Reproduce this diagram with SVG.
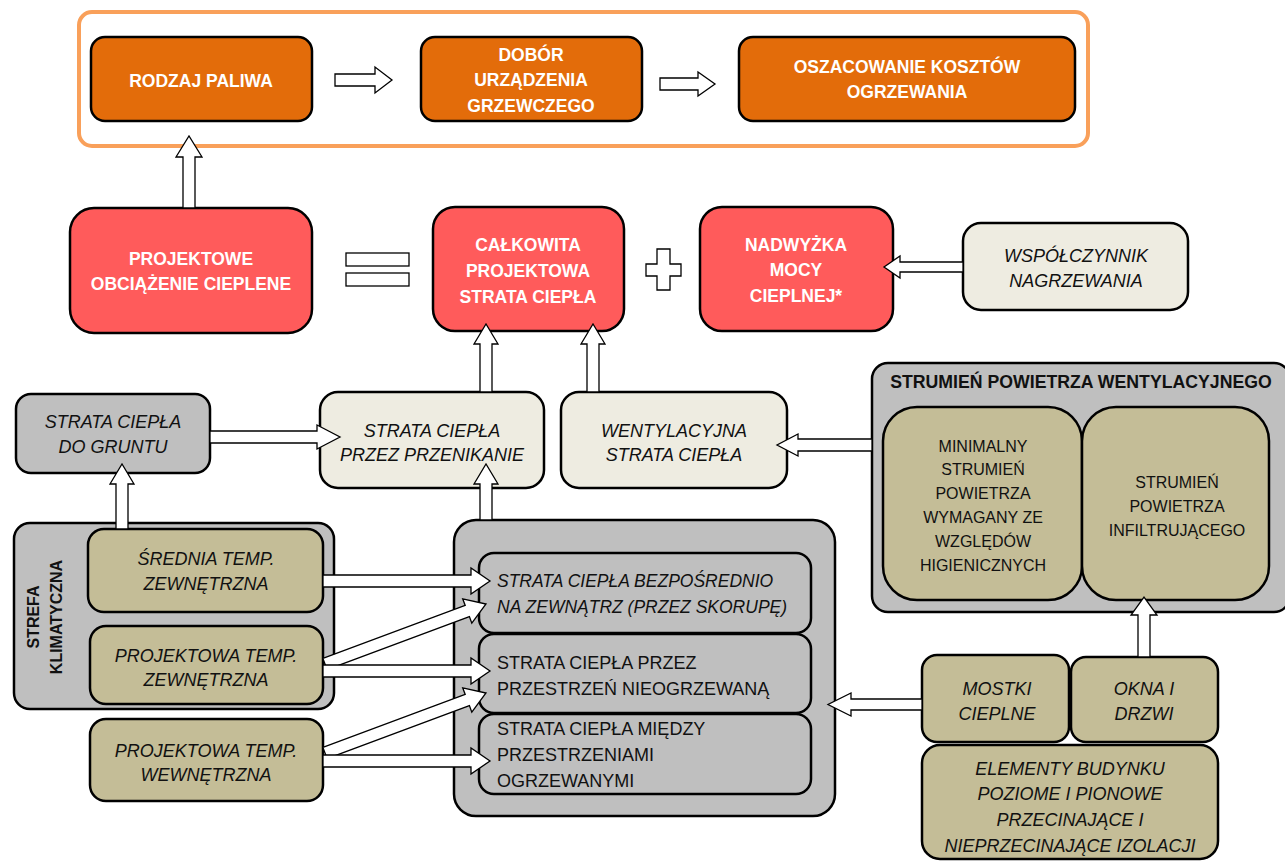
<svg xmlns="http://www.w3.org/2000/svg" width="1285" height="861" viewBox="0 0 1285 861">
<style>
text{font-family:"Liberation Sans",Arial,sans-serif;font-size:18px;fill:#111;}
.w{fill:#fff;font-weight:bold;font-size:17.5px;}
.c{text-anchor:middle;}
.i{font-style:italic;}
.b{font-weight:bold;}
.s{font-size:16px;}
.t{font-size:17.7px;}
.box{stroke:#000;stroke-width:2.5;}
.or{fill:#E36C0A;}
.rd{fill:#FF5B5B;}
.cr{fill:#EEECE1;}
.gr{fill:#BFBFBF;}
.tn{fill:#C4BD97;}
.ar{fill:#fff;stroke:#000;stroke-width:1.3;stroke-linejoin:miter;}
</style>
<rect width="1285" height="861" fill="#fff"/>
<g id="outer-orange"><rect x="79" y="12" width="1009" height="134" rx="13" fill="#fff" stroke="#F9A05A" stroke-width="4"/></g>
<g id="rodzaj-paliwa"><rect class="box or" x="91" y="37" width="221" height="84" rx="14"/><text class="w c" x="201" y="87">RODZAJ PALIWA</text></g>
<g id="dobor"><rect class="box or" x="421" y="37" width="221" height="84" rx="14"/><text class="w c" x="531" y="61">DOBÓR</text><text class="w c" x="531" y="86">URZĄDZENIA</text><text class="w c" x="531" y="112">GRZEWCZEGO</text></g>
<g id="oszacowanie"><rect class="box or" x="739" y="37" width="336" height="84" rx="14"/><text class="w c" x="907" y="73">OSZACOWANIE KOSZTÓW</text><text class="w c" x="907" y="98">OGRZEWANIA</text></g>
<g id="projektowe"><rect class="box rd" x="70" y="208" width="242" height="125" rx="24"/><text class="w c" x="191" y="265">PROJEKTOWE</text><text class="w c" x="191" y="290">OBCIĄŻENIE CIEPLENE</text></g>
<g id="equals"><rect x="346" y="253" width="63" height="13" fill="#fff" stroke="#000" stroke-width="1.3"/><rect x="346" y="273" width="63" height="13" fill="#fff" stroke="#000" stroke-width="1.3"/></g>
<g id="calkowita"><rect class="box rd" x="433" y="207" width="191" height="124" rx="22"/><text class="w c" x="528" y="251">CAŁKOWITA</text><text class="w c" x="528" y="277">PROJEKTOWA</text><text class="w c" x="528" y="303">STRATA CIEPŁA</text></g>
<g id="plus"><polygon points="657,249 670,249 670,264 681,264 681,276 670,276 670,290 657,290 657,276 646,276 646,264 657,264" fill="#fff" stroke="#000" stroke-width="1.3"/></g>
<g id="nadwyzka"><rect class="box rd" x="700" y="207" width="193" height="124" rx="22"/><text class="w c" x="796" y="251">NADWYŻKA</text><text class="w c" x="796" y="276">MOCY</text><text class="w c" x="796" y="302">CIEPLNEJ*</text></g>
<g id="wspolczynnik"><rect class="box cr" x="963" y="223" width="225" height="87" rx="18"/><text class="i c" x="1076" y="262">WSPÓŁCZYNNIK</text><text class="i c" x="1076" y="287">NAGRZEWANIA</text></g>
<g id="grunt"><rect class="box gr" x="16" y="394" width="194" height="79" rx="15"/><text class="i c" x="113" y="428">STRATA CIEPŁA</text><text class="i c" x="113" y="453">DO GRUNTU</text></g>
<g id="przenikanie"><rect class="box cr" x="320" y="392" width="224" height="96" rx="18"/><text class="i c" x="432" y="437">STRATA CIEPŁA</text><text class="i c" x="432" y="461">PRZEZ PRZENIKANIE</text></g>
<g id="wentylacyjna"><rect class="box cr" x="561" y="392" width="226" height="96" rx="18"/><text class="i c" x="674" y="437">WENTYLACYJNA</text><text class="i c" x="674" y="461">STRATA CIEPŁA</text></g>
<g id="strumien"><rect class="box gr" x="872" y="363" width="418" height="249" rx="16"/><text class="b c t" x="1081" y="388">STRUMIEŃ POWIETRZA WENTYLACYJNEGO</text></g>
<g id="minimalny"><rect class="box tn" x="883" y="407" width="199" height="193" rx="34"/><text class="s c" x="983" y="452">MINIMALNY</text><text class="s c" x="983" y="475">STRUMIEŃ</text><text class="s c" x="983" y="499">POWIETRZA</text><text class="s c" x="983" y="523">WYMAGANY ZE</text><text class="s c" x="983" y="547">WZGLĘDÓW</text><text class="s c" x="983" y="571">HIGIENICZNYCH</text></g>
<g id="infiltrujacy"><rect class="box tn" x="1082" y="407" width="187" height="193" rx="34"/><text class="s c" x="1177" y="488">STRUMIEŃ</text><text class="s c" x="1177" y="512">POWIETRZA</text><text class="s c" x="1177" y="536">INFILTRUJĄCEGO</text></g>
<g id="strefa"><rect class="box gr" x="14" y="523" width="320" height="186" rx="16"/><text class="b c s" transform="translate(39,617) rotate(-90)">STREFA</text><text class="b c s" transform="translate(62,617) rotate(-90)">KLIMATYCZNA</text></g>
<g id="srednia"><rect class="box tn" x="88" y="529" width="235" height="83" rx="16"/><text class="i c" x="206" y="565">ŚREDNIA TEMP.</text><text class="i c" x="206" y="590">ZEWNĘTRZNA</text></g>
<g id="proj-zewn"><rect class="box tn" x="90" y="626" width="233" height="78" rx="16"/><text class="i c" x="206" y="662">PROJEKTOWA TEMP.</text><text class="i c" x="206" y="686">ZEWNĘTRZNA</text></g>
<g id="proj-wewn"><rect class="box tn" x="90" y="719" width="233" height="82" rx="16"/><text class="i c" x="206" y="757">PROJEKTOWA TEMP.</text><text class="i c" x="206" y="781">WEWNĘTRZNA</text></g>
<g id="big-gray"><rect class="box gr" x="454" y="520" width="381" height="296" rx="22"/></g>
<g id="bezposrednio"><rect class="box gr" x="479" y="553" width="332" height="80" rx="15"/><text class="i" x="497" y="587" style="font-size:17.5px">STRATA CIEPŁA BEZPOŚREDNIO</text><text class="i" x="497" y="613" style="font-size:17.5px">NA ZEWNĄTRZ (PRZEZ SKORUPĘ)</text></g>
<g id="nieogrzewana"><rect class="box gr" x="479" y="634" width="332" height="79" rx="15"/><text x="497" y="669">STRATA CIEPŁA PRZEZ</text><text x="497" y="695">PRZESTRZEŃ NIEOGRZEWANĄ</text></g>
<g id="miedzy"><rect class="box gr" x="479" y="714" width="332" height="80" rx="15"/><text x="497" y="735">STRATA CIEPŁA MIĘDZY</text><text x="497" y="761">PRZESTRZENIAMI</text><text x="497" y="787">OGRZEWANYMI</text></g>
<g id="mostki"><rect class="box tn" x="922" y="655" width="147" height="87" rx="15"/><text class="i c" x="997" y="695">MOSTKI</text><text class="i c" x="997" y="720">CIEPLNE</text></g>
<g id="okna"><rect class="box tn" x="1071" y="657" width="147" height="85" rx="15"/><text class="i c" x="1144" y="695">OKNA I</text><text class="i c" x="1144" y="720">DRZWI</text></g>
<g id="elementy"><rect class="box tn" x="922" y="745" width="296" height="114" rx="18"/><text class="i c" x="1070" y="775">ELEMENTY BUDYNKU</text><text class="i c" x="1070" y="800">POZIOME I PIONOWE</text><text class="i c" x="1070" y="826">PRZECINAJĄCE I</text><text class="i c" x="1070" y="852">NIEPRZECINAJĄCE IZOLACJI</text></g>
<g id="connectors">
<polygon class="ar" points="335,74 375,74 375,67 392,80 375,93 375,86 335,86"/>
<polygon class="ar" points="660,78 698,78 698,72 715,84 698,96 698,90 660,90"/>
<polygon class="ar" points="183,208 183,157 176,157 189,136 202,157 195,157 195,208"/>
<polygon class="ar" points="963,262 900,262 900,256 884,267 900,278 900,272 963,272"/>
<polygon class="ar" points="480,392 480,344 474,344 486,324 498,344 492,344 492,392"/>
<polygon class="ar" points="587,392 587,344 581,344 593,324 605,344 599,344 599,392"/>
<polygon class="ar" points="210,431 317,431 317,425 340,437 317,449 317,443 210,443"/>
<polygon class="ar" points="872,439 798,439 798,434 777,445 798,456 798,451 872,451"/>
<polygon class="ar" points="116,529 116,484 110,484 122,464 134,484 128,484 128,529"/>
<polygon class="ar" points="480,520 480,484 474,484 486,464 498,484 492,484 492,520"/>
<polygon class="ar" points="322.9,658.4 465.2,605.4 462.7,598.8 486,604 471.8,623.2 469.4,616.6 327.1,669.6"/>
<polygon class="ar" points="322.9,747.4 465.2,694.4 462.7,687.8 486,693 471.8,712.2 469.4,705.6 327.1,758.6"/>
<polygon class="ar" points="323,575 471,575 471,568 490,581 471,594 471,587 323,587"/>
<polygon class="ar" points="323,665 471,665 471,658 490,671 471,684 471,677 323,677"/>
<polygon class="ar" points="323,755 471,755 471,748 490,761 471,774 471,767 323,767"/>
<polygon class="ar" points="922,699 851,699 851,693 828,704.5 851,716 851,710 922,710"/>
<polygon class="ar" points="1138,657 1138,615 1131,615 1144,597 1157,615 1150,615 1150,657"/>
</g>
</svg>
